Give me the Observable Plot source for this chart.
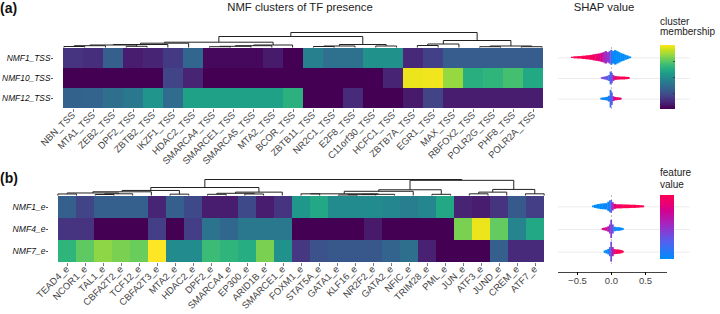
<!DOCTYPE html>
<html>
<head>
<meta charset="utf-8">
<script src="https://cdn.jsdelivr.net/npm/d3@7"></script>
<script src="https://cdn.jsdelivr.net/npm/@observablehq/plot@0.6"></script>
<style>
  body { margin: 0; background: #fff; }
  #root { position: relative; width: 720px; height: 314px; overflow: hidden; font-family: "Liberation Sans", Arial, sans-serif; }
  #root svg { position: absolute; left: 0; top: 0; pointer-events: none; }
  .lbl { position: absolute; white-space: nowrap; color: #222; line-height: 1; }
</style>
</head>
<body>
<div id="root"></div>
<script>
// ---------- DATA ----------
const tssCols = ["NBN_TSS","MTA1_TSS","ZEB2_TSS","DPF2_TSS","ZBTB2_TSS","IKZF1_TSS","HDAC2_TSS","SMARCA4_TSS","SMARCE1_TSS","SMARCA5_TSS","MTA2_TSS","BCOR_TSS","ZBTB11_TSS","NR2C1_TSS","E2F8_TSS","C11orf30_TSS","HCFC1_TSS","ZBTB7A_TSS","EGR1_TSS","MAX_TSS","RBFOX2_TSS","POLR2G_TSS","PHF8_TSS","POLR2A_TSS"];
const tssRows = ["NMF1_TSS","NMF10_TSS","NMF12_TSS"];
const tssNMF1  = [0.15,0.13,0.30,0.08,0.10,0.17,0.33,0.02,0.02,0.02,0.07,0.00,0.43,0.37,0.37,0.50,0.50,0.11,0.19,0.29,0.29,0.29,0.29,0.29];
const tssNMF10 = [0.00,0.00,0.00,0.00,0.00,0.20,0.10,0.00,0.00,0.00,0.00,0.00,0.00,0.00,0.00,0.00,0.10,0.97,0.98,0.84,0.63,0.65,0.70,0.60];
const tssNMF12 = [0.31,0.32,0.36,0.40,0.52,0.35,0.57,0.57,0.57,0.57,0.57,0.64,0.00,0.00,0.12,0.00,0.00,0.07,0.20,0.08,0.08,0.08,0.08,0.08];

const eCols = ["TEAD4_e","NCOR1_e","TAL1_e","CBFA2T2_e","TCF12_e","CBFA2T3_e","MTA2_e","HDAC2_e","DPF2_e","SMARCA4_e","EP300_e","ARID1B_e","SMARCE1_e","FOXM1_e","STAT5A_e","GATA1_e","KLF16_e","NR2F2_e","GATA2_e","NFIC_e","TRIM28_e","PML_e","JUN_e","ATF3_e","JUND_e","CREM_e","ATF7_e"];
const eRows = ["NMF1_e","NMF4_e","NMF7_e"];
const eNMF1 = [0.30,0.20,0.30,0.30,0.30,0.10,0.30,0.22,0.08,0.08,0.22,0.08,0.15,0.53,0.60,0.48,0.48,0.48,0.46,0.42,0.46,0.60,0.10,0.08,0.15,0.28,0.18];
const eNMF4 = [0.15,0.15,0.00,0.00,0.00,0.18,0.00,0.18,0.38,0.33,0.40,0.40,0.40,0.00,0.00,0.00,0.00,0.07,0.00,0.00,0.00,0.00,0.80,0.97,0.76,0.45,0.60];
const eNMF7 = [0.65,0.75,0.83,0.80,0.77,1.00,0.48,0.48,0.68,0.65,0.62,0.80,0.50,0.16,0.25,0.27,0.27,0.27,0.32,0.36,0.09,0.00,0.00,0.00,0.30,0.12,0.12];

// dendrogram linkages: [childA, childB, height]  (leaves 0..n-1, merges n..)
const tssLinkage = [
  [0,1,1.0],[24,2,1.8],[3,4,1.2],[25,26,2.5],[27,5,3.0],[28,6,4.3],
  [7,8,0.8],[30,9,1.2],[31,10,1.8],[32,11,2.5],[29,33,5.3],
  [12,13,1.0],[35,14,1.5],[15,16,1.5],[36,37,3.0],[34,38,11.0],
  [17,18,2.0],[40,19,3.5],[20,21,0.8],[22,23,0.8],[42,43,1.5],[41,44,7.0],
  [39,45,15.0]
];
const eLinkage = [
  [0,1,0.9],[2,3,0.6],[28,4,1.0],[27,29,1.5],[30,5,2.2],[6,7,0.8],[31,32,3.0],
  [8,9,0.7],[10,11,0.9],[34,35,1.3],[36,12,2.0],[33,37,4.75],
  [13,14,1.0],[15,16,0.3],[40,17,0.5],[41,18,0.7],[39,42,1.0],[43,19,2.5],[20,21,0.7],[44,45,3.4],
  [22,23,1.0],[47,24,2.0],[25,26,1.0],[48,49,3.6],[46,50,9.0],
  [38,51,9.5]
];

// SHAP profiles per row: [shap value, half-height (fraction of row), feature value 0..1]
const shapTss1 = [[-0.58,0.03,1],[-0.52,0.05,1],[-0.46,0.06,1],[-0.40,0.08,1],[-0.34,0.10,0.95],[-0.29,0.12,0.95],[-0.25,0.15,0.9],[-0.21,0.17,0.9],[-0.17,0.19,0.85],[-0.14,0.22,0.75],[-0.11,0.25,0.6],[-0.08,0.30,0.55],[-0.05,0.25,0.45],[-0.02,0.30,0.4],[0.00,0.36,0.2],[0.03,0.30,0.05],[0.06,0.35,0],[0.09,0.30,0],[0.12,0.25,0],[0.15,0.20,0],[0.18,0.17,0],[0.21,0.12,0],[0.24,0.09,0],[0.27,0.05,0],[0.29,0.03,0]];
const shapTss10 = [[-0.14,0.04,0.35],[-0.11,0.06,0.4],[-0.08,0.08,0.35],[-0.05,0.11,0.3],[-0.03,0.15,0.25],[-0.01,0.31,0.2],[0.01,0.25,0.35],[0.03,0.14,0.6],[0.06,0.09,0.85],[0.10,0.08,0.95],[0.14,0.07,1],[0.18,0.07,1],[0.22,0.06,1],[0.25,0.05,1],[0.27,0.03,1]];
const shapTss12 = [[-0.15,0.04,0.05],[-0.12,0.06,0],[-0.09,0.07,0],[-0.06,0.09,0.05],[-0.03,0.14,0.1],[-0.01,0.43,0.15],[0.01,0.30,0.3],[0.03,0.12,0.55],[0.06,0.08,0.8],[0.09,0.07,0.9],[0.12,0.06,0.9],[0.15,0.04,0.85]];
const shapE1 = [[-0.27,0.04,0],[-0.23,0.07,0],[-0.19,0.10,0],[-0.15,0.12,0],[-0.11,0.13,0],[-0.07,0.14,0.05],[-0.04,0.20,0.05],[-0.02,0.26,0.1],[0.00,0.28,0.25],[0.02,0.18,0.55],[0.05,0.11,0.8],[0.09,0.09,0.9],[0.14,0.09,0.95],[0.19,0.08,1],[0.24,0.08,1],[0.29,0.07,1],[0.34,0.07,1],[0.39,0.06,1],[0.44,0.05,1],[0.48,0.04,1]];
const shapE4 = [[-0.13,0.04,0.9],[-0.10,0.06,0.8],[-0.07,0.08,0.7],[-0.04,0.12,0.6],[-0.02,0.20,0.5],[0.00,0.40,0.45],[0.02,0.20,0.3],[0.05,0.10,0.1],[0.08,0.08,0],[0.11,0.08,0],[0.15,0.06,0],[0.18,0.04,0]];
const shapE7 = [[-0.10,0.05,0],[-0.07,0.08,0],[-0.04,0.12,0.05],[-0.02,0.20,0.15],[0.00,0.44,0.35],[0.02,0.20,0.6],[0.05,0.11,0.85],[0.08,0.10,0.95],[0.12,0.09,1],[0.15,0.07,1],[0.18,0.04,1]];
const shapTicks = [-0.5, 0, 0.5];
const shapDomain = [-0.779, 0.809];
const membershipTicks = [0.25, 0.5, 0.75];
const shapColors = ["#008bfb","#4f63ef","#9a2ec8","#d4008f","#ff0052"];

// ---------- HELPERS ----------
const FONT = "'Liberation Sans', Arial, sans-serif";
const root = document.getElementById("root");
const baseStyle = {fontFamily: FONT, background: "transparent", overflow: "visible"};
const shapColor = d3.piecewise(d3.interpolateRgb, shapColors);

function cells(cols, rows, vals) {
  return rows.flatMap((r, i) => cols.map((c, j) => ({row: r, col: c, v: vals[i][j]})));
}
function dendroSegs(n, linkage) {
  const xs = d3.range(n).map(i => i + 0.5), hs = Array(n).fill(0), segs = [];
  for (const [a, b, h] of linkage) {
    segs.push({x1: xs[a], x2: xs[b], y1: h, y2: h});
    segs.push({x1: xs[a], x2: xs[a], y1: hs[a], y2: h});
    segs.push({x1: xs[b], x2: xs[b], y1: hs[b], y2: h});
    xs.push((xs[a] + xs[b]) / 2); hs.push(h);
  }
  return segs;
}
function shapRects(rowsPts) {
  return rowsPts.flatMap((pts, r) => pts.map((p, k) => {
    const x1 = k === 0 ? p[0] - 0.008 : (pts[k - 1][0] + p[0]) / 2;
    const x2 = k === pts.length - 1 ? p[0] + 0.008 : (pts[k + 1][0] + p[0]) / 2 + 0.006;
    return {r, x1, x2, y1: r - p[1], y2: r + p[1], c: shapColor(p[2])};
  }));
}
function add(svg) { root.appendChild(svg); }
function label(text, style) {
  const d = document.createElement("div");
  d.className = "lbl"; d.textContent = text;
  Object.assign(d.style, style);
  root.appendChild(d);
}

// ---------- BUILDERS ----------
function heatmap(cols, rows, vals, top, bottom, left, right, rowFont) {
  return Plot.plot({
    width: 720, height: 314,
    marginTop: top, marginBottom: 314 - bottom, marginLeft: left, marginRight: 720 - right,
    style: baseStyle,
    x: {domain: cols, padding: 0},
    y: {domain: rows, padding: 0},
    color: {type: "linear", scheme: "viridis", domain: [0, 1]},
    marks: [
      Plot.cell(cells(cols, rows, vals), {x: "col", y: "row", fill: "v", inset: 0, shapeRendering: "crispEdges"}),
      Plot.axisX({tickRotate: -45, tickSize: 3, tickPadding: 1, fontSize: 9.5, fill: "#444", stroke: "#777", label: null}),
      Plot.axisY({tickSize: 2, tickPadding: 1, fontSize: rowFont, fontStyle: "italic", fill: "#111", stroke: "#555", label: null})
    ]
  });
}
function dendro(n, linkage, maxH, left, right, yBase, yTop) {
  return Plot.plot({
    width: 720, height: 314, style: baseStyle,
    x: {domain: [0, n], range: [left, right], axis: null},
    y: {domain: [0, maxH], range: [yBase, yTop], axis: null},
    marks: [Plot.link(dendroSegs(n, linkage), {x1: "x1", y1: "y1", x2: "x2", y2: "y2", stroke: "#222", strokeWidth: 1})]
  });
}
function shap(rowsPts, yTop, yBot, withAxis, axisY) {
  const marks = [
    Plot.ruleY([0, 1, 2], {x1: shapDomain[0], x2: 1.16, stroke: "#ececec", strokeWidth: 1}),
    Plot.ruleX([0], {y1: -0.5, y2: 2.55, stroke: "#aaa", strokeWidth: 0.8, strokeDasharray: "2,2"}),
    Plot.rect(shapRects(rowsPts), {x1: "x1", x2: "x2", y1: "y1", y2: "y2", fill: "c"})
  ];
  if (withAxis) {
    marks.push(Plot.frame({anchor: "bottom", stroke: "#444"}));
    marks.push(Plot.axisX({ticks: shapTicks, tickFormat: d3.format(".1f"), tickSize: 3, tickPadding: 2, fontSize: 9.5, fill: "#444", label: null}));
  }
  return Plot.plot({
    width: 720, height: 314, style: baseStyle,
    marginLeft: 558, marginRight: 720 - 666,
    marginTop: yTop, marginBottom: 314 - (withAxis ? axisY : yBot),
    x: {domain: shapDomain, range: [558, 666], axis: withAxis ? undefined : null},
    y: {domain: [-0.5, 2.5], range: [yTop, yBot], axis: null},
    marks
  });
}
function colorbar(x0, x1, y0, y1, colorOpt, ticks) {
  const steps = d3.range(0, 1, 0.01).map(v => ({v}));
  const marks = [Plot.rect(steps, {x1: 0, x2: 1, y1: "v", y2: d => d.v + 0.0105, fill: "v", shapeRendering: "crispEdges"})];
  if (ticks) marks.push(Plot.ruleY(ticks, {x1: 0.86, x2: 1, stroke: "#333", strokeWidth: 0.8}));
  return Plot.plot({
    width: 720, height: 314, style: baseStyle,
    x: {domain: [0, 1], range: [x0, x1], axis: null},
    y: {domain: [0, 1], range: [y1, y0], axis: null},
    color: colorOpt,
    marks
  });
}

// ---------- PANEL (a) ----------
add(dendro(tssCols.length, tssLinkage, 15, 53, 552, 47, 32));
add(heatmap(tssCols, tssRows, [tssNMF1, tssNMF10, tssNMF12], 47, 109, 53, 552, 8.4));
add(shap([shapTss1, shapTss10, shapTss12], 47, 109, false));
add(colorbar(660, 675, 45, 109, {type: "linear", scheme: "viridis", domain: [0, 1]}, membershipTicks));

// ---------- PANEL (b) ----------
add(dendro(eCols.length, eLinkage, 9.5, 48, 553, 195, 179));
add(heatmap(eCols, eRows, [eNMF1, eNMF4, eNMF7], 195, 263, 48, 553, 8.6));
add(shap([shapE1, shapE4, shapE7], 195, 263, true, 272));
add(colorbar(660, 674, 195, 259, {type: "linear", domain: [0, 1], interpolate: () => shapColor}, null));

// ---------- TEXT ----------
label("(a)", {left: "0px", top: "1px", fontSize: "14px", fontWeight: "bold", color: "#111"});
label("NMF clusters of TF presence", {left: "300px", top: "1.5px", fontSize: "11.3px", transform: "translateX(-50%)", color: "#222"});
label("SHAP value", {left: "604px", top: "1.5px", fontSize: "11.3px", transform: "translateX(-50%)", color: "#222"});
label("cluster", {left: "660px", top: "16.5px", fontSize: "10px"});
label("membership", {left: "660px", top: "27px", fontSize: "10px"});
label("(b)", {left: "0px", top: "171px", fontSize: "14px", fontWeight: "bold", color: "#111"});
label("feature", {left: "660px", top: "167.5px", fontSize: "10px"});
label("value", {left: "660px", top: "179.5px", fontSize: "10px"});
</script>
</body>
</html>
